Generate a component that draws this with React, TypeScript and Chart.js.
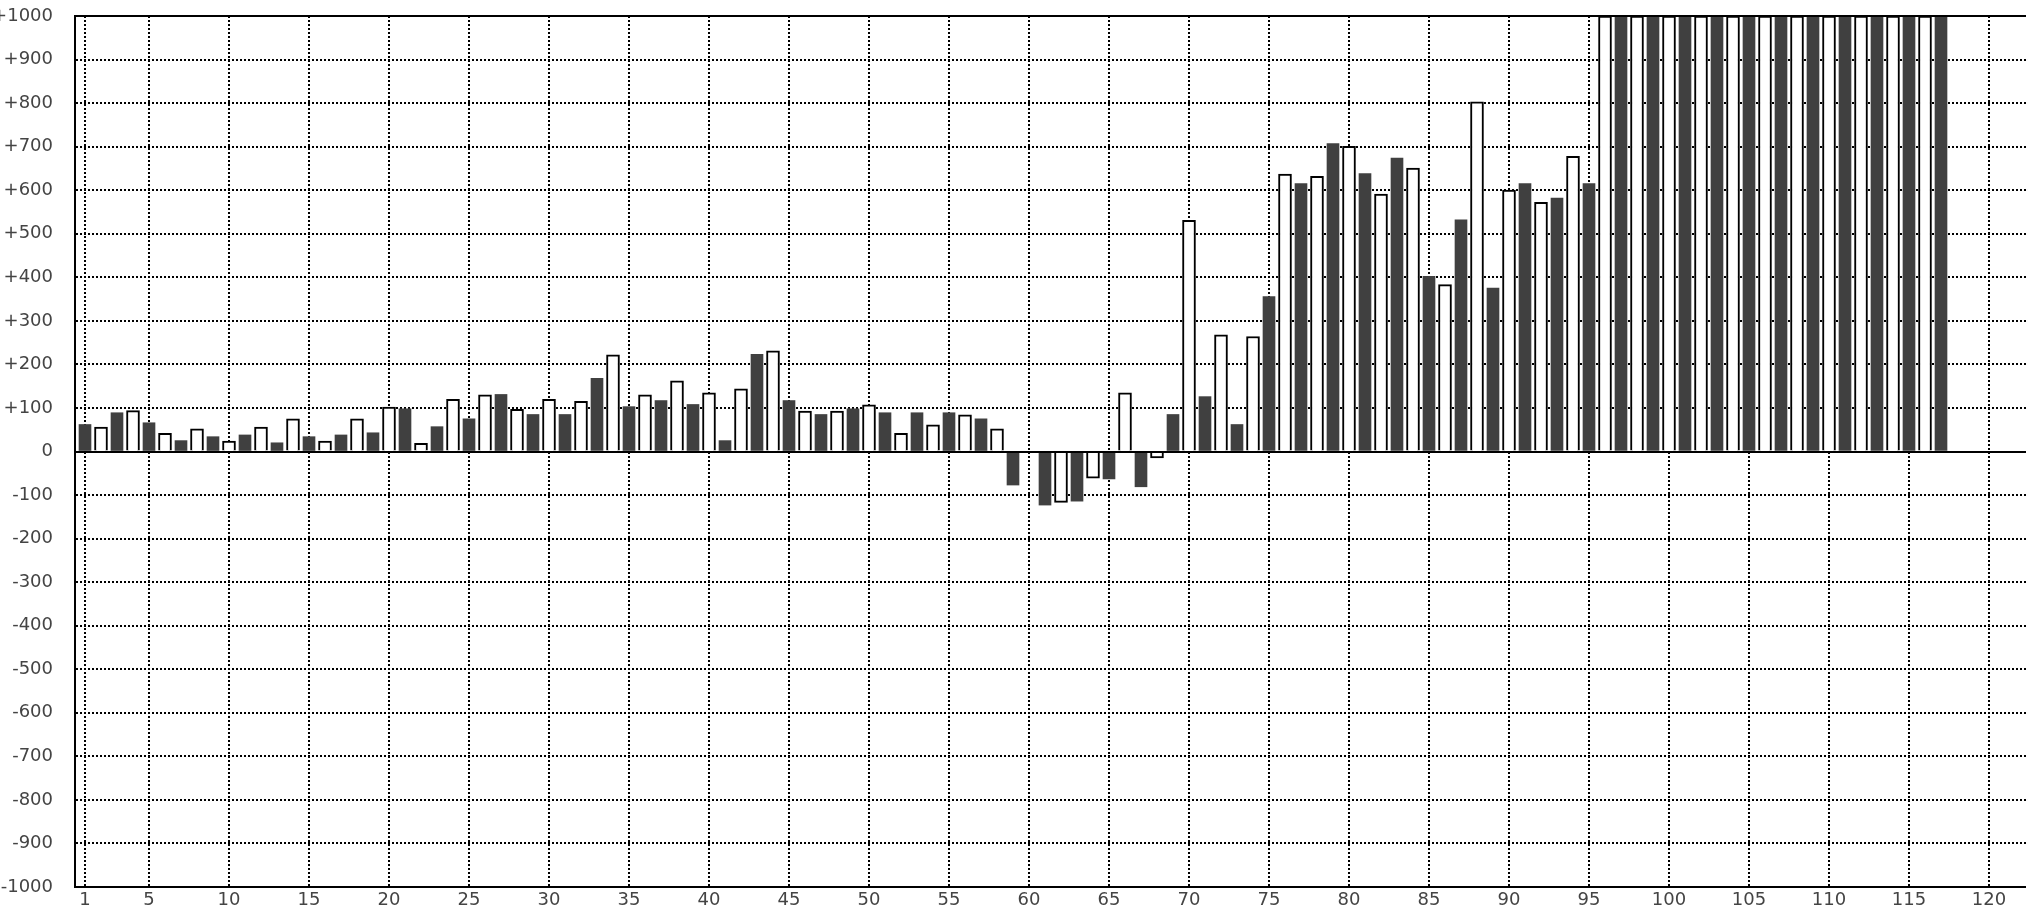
import React, { useEffect, useRef } from "react";
import { Chart, registerables } from "chart.js";

Chart.register(...registerables);

// Bar index (1-based) and value
const values: number[] = [
  62, 56, 89, 94, 66, 42, 25, 52, 34, 24,
  38, 56, 20, 75, 34, 24, 38, 75, 43, 102,
  98, 19, 57, 120, 75, 130, 131, 97, 85, 120,
  85, 115, 168, 222, 103, 130, 117, 162, 108, 135,
  25, 144, 223, 231, 117, 93, 85, 93, 98, 107,
  89, 42, 89, 61, 89, 84, 75, 52, -77, 0,
  -123, -117, -114, -61, -63, 135, -81, -15, 85, 531,
  126, 268, 62, 264, 356, 637, 615, 632, 707, 701,
  638, 591, 674, 651, 402, 383, 532, 803, 375, 600,
  615, 572, 582, 678, 615, 1000, 1000, 1000, 1000, 1000,
  1000, 1000, 1000, 1000, 1000, 1000, 1000, 1000, 1000, 1000,
  1000, 1000, 1000, 1000, 1000, 1000, 1000,
];

const xTickValues: number[] = [1, 5, 10, 15, 20, 25, 30, 35, 40, 45, 50, 55, 60, 65, 70, 75, 80, 85, 90, 95, 100, 105, 110, 115, 120];
const yMin = -1000;
const yMax = 1000;
const yStep = 100;
const xMin = 0.375;
const xMax = 122.3125;

const FONT = "'DejaVu Sans', sans-serif";

export default function App() {
  const canvasRef = useRef<HTMLCanvasElement | null>(null);

  useEffect(() => {
    document.body.style.margin = "0";
    const canvas = canvasRef.current;
    if (!canvas) return;

    const darkPoints = values
      .map((v, i) => ({ x: i + 1, y: v }))
      .filter((p) => p.x % 2 === 1);
    const whitePoints = values
      .map((v, i) => ({ x: i + 1, y: v }))
      .filter((p) => p.x % 2 === 0);

    const framePlugin = {
      id: "frame",
      afterDatasetsDraw(chart: any) {
        const { ctx, chartArea } = chart;
        const y0 = chart.scales.y.getPixelForValue(0);
        ctx.save();
        ctx.strokeStyle = "#000";
        ctx.lineWidth = 2;
        ctx.setLineDash([]);
        ctx.beginPath();
        ctx.moveTo(chartArea.left - 1, chartArea.top);
        ctx.lineTo(chartArea.right, chartArea.top);
        ctx.moveTo(chartArea.left, Math.round(y0));
        ctx.lineTo(chartArea.right, Math.round(y0));
        ctx.stroke();
        ctx.restore();
      },
    };

    const chart = new Chart(canvas, {
      type: "bar",
      data: {
        datasets: [
          {
            label: "odd",
            data: darkPoints as any,
            backgroundColor: "#404040",
            borderWidth: 0,
            barThickness: 12,
            grouped: false,
          } as any,
          {
            label: "even",
            data: whitePoints as any,
            backgroundColor: "#ffffff",
            borderColor: "#000000",
            borderWidth: 2,
            barThickness: 13,
            grouped: false,
          } as any,
        ],
      },
      options: {
        animation: false,
        responsive: false,
        maintainAspectRatio: false,
        devicePixelRatio: 1,
        layout: { padding: { top: 16, right: 0, bottom: 0, left: 0 } },
        plugins: {
          legend: { display: false },
          tooltip: { enabled: false },
        },
        scales: {
          x: {
            type: "linear",
            offset: false,
            min: xMin,
            max: xMax,
            afterBuildTicks: (scale: any) => {
              scale.ticks = xTickValues.map((v) => ({ value: v }));
            },
            afterFit: (scale: any) => {
              scale.height = 19;
            },
            ticks: {
              autoSkip: false,
              maxRotation: 0,
              minRotation: 0,
              padding: 3,
              color: "#444",
              font: { family: FONT, size: 18 },
              callback: (v: any) => String(v),
            },
            grid: {
              offset: false,
              color: "#000",
              lineWidth: 2,
              drawTicks: false,
              tickLength: 0,
            },
            border: { display: true, color: "#000", width: 2, dash: [2, 2] },
          },
          y: {
            type: "linear",
            min: yMin,
            max: yMax,
            afterFit: (scale: any) => {
              scale.width = 75;
            },
            ticks: {
              stepSize: yStep,
              autoSkip: false,
              padding: 0,
              color: "#444",
              font: { family: FONT, size: 18 },
              callback: (v: any) => (Number(v) > 0 ? "+" + v : String(v)),
            },
            grid: {
              color: "#000",
              lineWidth: 2,
              drawTicks: true,
              tickLength: 22,
              tickColor: "rgba(0,0,0,0)",
            },
            border: { display: true, color: "#000", width: 2, dash: [2, 2] },
          },
        },
      },
      plugins: [framePlugin],
    });

    return () => {
      chart.destroy();
    };
  }, []);

  return (
    <div style={{ position: "absolute", left: 0, top: 0, width: 2026, height: 906 }}>
      <canvas ref={canvasRef} width={2026} height={906} style={{ display: "block", width: 2026, height: 906 }} />
    </div>
  );
}
